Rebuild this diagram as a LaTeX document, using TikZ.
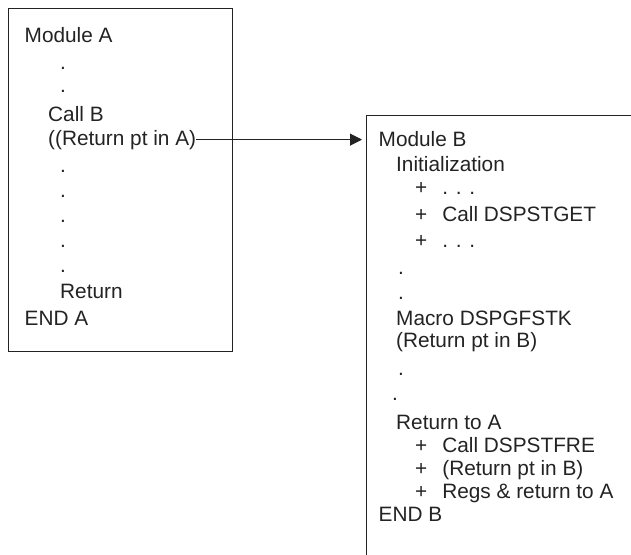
\documentclass[tikz,border=0pt]{standalone}
\usepackage{fontspec}
\setmainfont{Liberation Sans}
\usepackage{xcolor}
\usetikzlibrary{arrows.meta, positioning}
\definecolor{inkgray}{RGB}{35,35,35}

\begin{document}
\begin{tikzpicture}[
    x=1pt, y=-1pt,
    every node/.style={font=\fontsize{20.8}{24}\selectfont, text=inkgray, inner sep=0pt, anchor=base west},
    module/.style={draw=inkgray, line width=1pt},
    arrow/.style={-{Triangle[length=12pt, width=12pt]}, line width=1pt, draw=inkgray, shorten >=4pt},
    dotline/.style={}
]
\useasboundingbox (0,0) rectangle (631,554);

% Module A
\draw[module] (8,8) rectangle (232,351);
\node (modA) at (24.5,42) {Module A};
\node[dotline] (dotA1) at (60,69) {.};
\node[dotline] (dotA2) at (60,92) {.};
\node (callB) at (48,121) {Call B};
\node (retA) at (48,145) {((Return pt in A)};
\node[dotline] (dotA3) at (60,172) {.};
\node[dotline] (dotA4) at (60,197) {.};
\node[dotline] (dotA5) at (60,222) {.};
\node[dotline] (dotA6) at (60,247) {.};
\node[dotline] (dotA7) at (60,272) {.};
\node (retnA) at (60,298) {Return};
\node (endA) at (24.5,325) {END A};

% Module B (box runs off the page)
\coordinate (boxB) at (366,115);
\draw[module] (640,115) -- (boxB) -- (366,560);
\node (modB) at (378.5,146) {Module B};
\node (init) at (396,171) {Initialization};
\node (initP1) at (415,194) {+\hspace{15pt}. . .};
\node (initP2) at (415,221) {+\hspace{15pt}Call DSPSTGET};
\node (initP3) at (415,247) {+\hspace{15pt}. . .};
\node[dotline] (dotB1) at (398,274) {.};
\node[dotline] (dotB2) at (398,299) {.};
\node (macro) at (396,325) {Macro DSPGFSTK};
\node (retB) at (396,347) {(Return pt in B)};
\node[dotline] (dotB3) at (398,375) {.};
\node[dotline] (dotB4) at (392,400) {.};
\node (toA) at (396,429) {Return to A};
\node (toP1) at (415,452) {+\hspace{15pt}Call DSPSTFRE};
\node (toP2) at (415,475) {+\hspace{15pt}(Return pt in B)};
\node (toP3) at (415,498) {+\hspace{15pt}Regs \& return to A};
\node (endB) at (378.5,521) {END B};

\draw[arrow] (retA.east) -- (retA.east -| boxB);

\end{tikzpicture}
\end{document}
